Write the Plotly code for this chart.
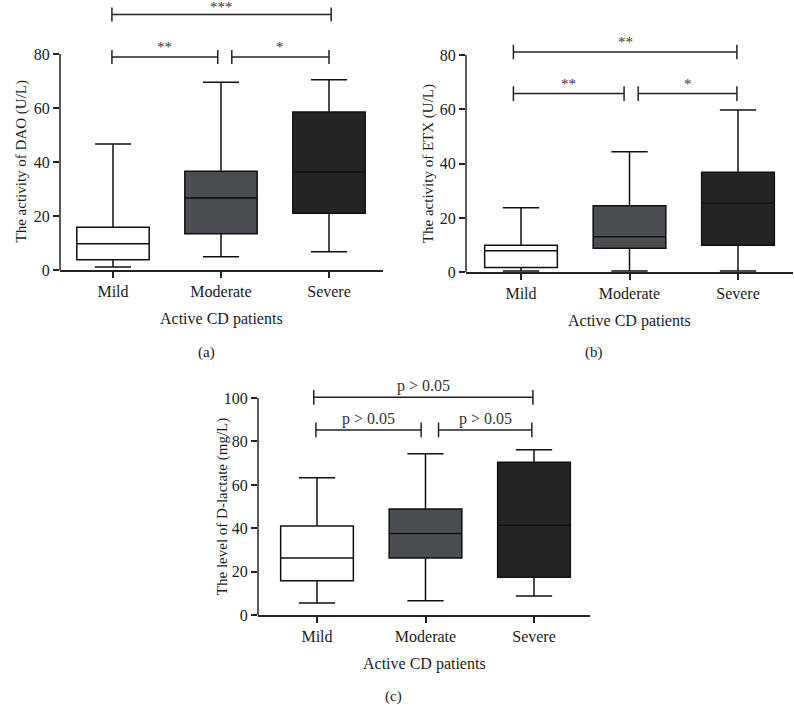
import plotly.graph_objects as go

W, H = 794, 705
FONT = "Liberation Serif"
INK = "#101010"

categories = ["Mild", "Moderate", "Severe"]
box_colors = ["#ffffff", "#4a4d51", "#252527"]

# (a) DAO activity (U/L)
dao_low = [1.1, 4.9, 6.8]
dao_q1 = [3.8, 13.4, 21.0]
dao_med = [9.7, 26.7, 36.3]
dao_q3 = [15.8, 36.6, 58.5]
dao_high = [46.7, 69.5, 70.5]
dao_sig_x0 = [-0.01, 1.10, -0.01]
dao_sig_x1 = [0.97, 2.00, 2.02]
dao_sig_y = [78.9, 78.9, 94.6]
dao_sig_lbl = ["**", "*", "***"]

# (b) ETX activity (U/L)
etx_low = [0.5, 0.5, 0.5]
etx_q1 = [1.8, 8.9, 10.0]
etx_med = [7.9, 13.1, 25.4]
etx_q3 = [10.0, 24.5, 36.8]
etx_high = [23.8, 44.4, 59.8]
etx_sig_x0 = [-0.07, 1.08, -0.07]
etx_sig_x1 = [0.95, 1.99, 1.99]
etx_sig_y = [65.8, 65.8, 81.1]
etx_sig_lbl = ["**", "*", "**"]

# (c) D-lactate level (mg/L)
dl_low = [5.7, 6.7, 8.9]
dl_q1 = [15.9, 26.4, 17.5]
dl_med = [26.4, 37.7, 41.4]
dl_q3 = [41.1, 48.9, 70.4]
dl_high = [63.3, 74.4, 76.2]
dl_sig_x0 = [-0.01, 1.12, -0.03]
dl_sig_x1 = [0.96, 1.98, 1.99]
dl_sig_y = [85.3, 85.3, 100.3]
dl_sig_lbl = ["p > 0.05", "p > 0.05", "p > 0.05"]

y_ticks_ab = [0, 20, 40, 60, 80]
y_ticks_c = [0, 20, 40, 60, 80, 100]

panels = [
    dict(key="", low=dao_low, q1=dao_q1, med=dao_med, q3=dao_q3, high=dao_high,
         sx0=dao_sig_x0, sx1=dao_sig_x1, sy=dao_sig_y, slbl=dao_sig_lbl,
         ytitle="The activity of DAO (U/L)", ticks=y_ticks_ab, caption="(a)",
         left=60, right=383, cat0=113, step=108, y0px=270, ppu=2.70, ymax=100,
         tick_h=2.6, ytitle_shift=-50, sigfont=15, cap=(196, 352)),
    dict(key="2", low=etx_low, q1=etx_q1, med=etx_med, q3=etx_q3, high=etx_high,
         sx0=etx_sig_x0, sx1=etx_sig_x1, sy=etx_sig_y, slbl=etx_sig_lbl,
         ytitle="The activity of ETX (U/L)", ticks=y_ticks_ab, caption="(b)",
         left=466, right=793, cat0=521, step=108.5, y0px=272.3, ppu=2.716, ymax=95,
         tick_h=2.7, ytitle_shift=-48, sigfont=15, cap=(605, 352)),
    dict(key="3", low=dl_low, q1=dl_q1, med=dl_med, q3=dl_q3, high=dl_high,
         sx0=dl_sig_x0, sx1=dl_sig_x1, sy=dl_sig_y, slbl=dl_sig_lbl,
         ytitle="The level of D-lactate (mg/L)", ticks=y_ticks_c, caption="(c)",
         left=258, right=590, cat0=317, step=108.5, y0px=615.3, ppu=2.173, ymax=116,
         tick_h=3.4, ytitle_shift=-46, sigfont=16, cap=(393, 696)),
]

fig = go.Figure()
shapes = []
annotations = []
layout = {}

for p in panels:
    k = p["key"]
    xa, ya = "x" + k, "y" + k
    for i, cat in enumerate(categories):
        fig.add_trace(go.Box(
            x=[cat], q1=[p["q1"][i]], median=[p["med"][i]], q3=[p["q3"][i]],
            lowerfence=[p["low"][i]], upperfence=[p["high"][i]],
            fillcolor=box_colors[i], line=dict(color=INK, width=1.5),
            width=0.67, whiskerwidth=0.5, boxpoints=False, showlegend=False,
            xaxis=xa, yaxis=ya, hoverinfo="skip"))
    xr = [(p["left"] - p["cat0"]) / p["step"], (p["right"] - p["cat0"]) / p["step"]]
    top_px = p["y0px"] - p["ymax"] * p["ppu"]
    layout["xaxis" + k] = dict(
        domain=[p["left"] / W, p["right"] / W], range=xr, type="category",
        categoryorder="array", categoryarray=categories, anchor=ya, automargin=False,
        showline=True, linecolor="#222", linewidth=1.5, showgrid=False, zeroline=False,
        ticks="outside", ticklen=6, tickwidth=1.5, tickcolor="#222",
        tickfont=dict(family=FONT, size=16, color="#1a1a1a"))
    layout["yaxis" + k] = dict(
        domain=[1 - p["y0px"] / H, 1 - top_px / H], range=[0, p["ymax"]], anchor=xa,
        automargin=False,
        showline=False, showgrid=False, zeroline=False, tickvals=p["ticks"],
        ticks="outside", ticklen=6, tickwidth=1.5, tickcolor="#222",
        tickfont=dict(family=FONT, size=16, color="#1a1a1a"))
    # y axis line up to the last tick
    shapes.append(dict(type="line", xref=xa + " domain", yref=ya, x0=0, x1=0,
                       y0=0, y1=p["ticks"][-1], line=dict(color="#222", width=1.5)))
    # significance brackets
    for x0, x1, y, lbl in zip(p["sx0"], p["sx1"], p["sy"], p["slbl"]):
        ln = dict(color="#222", width=1.5)
        shapes.append(dict(type="line", xref=xa, yref=ya, x0=x0, x1=x1, y0=y, y1=y, line=ln))
        for xx in (x0, x1):
            shapes.append(dict(type="line", xref=xa, yref=ya, x0=xx, x1=xx,
                               y0=y - p["tick_h"], y1=y + p["tick_h"], line=ln))
        shift = -2 if lbl == "***" else 0
        annotations.append(dict(text=lbl, xref=xa, yref=ya, x=(x0 + x1) / 2, y=y,
                                yanchor="bottom", showarrow=False, yshift=shift,
                                font=dict(family=FONT, size=p["sigfont"], color="#333")))
    # axis titles
    annotations.append(dict(text=p["ytitle"], textangle=-90, xref=xa + " domain", yref=ya,
                            x=0, y=p["ticks"][-1] / 2, xshift=p["ytitle_shift"],
                            showarrow=False, font=dict(family=FONT, size=15, color="#1a1a1a")))
    annotations.append(dict(text="Active CD patients", xref=xa + " domain", yref=ya + " domain",
                            x=0.5, y=0, yshift=-49, yanchor="middle", showarrow=False,
                            font=dict(family=FONT, size=16, color="#1a1a1a")))
    annotations.append(dict(text=p["caption"], xref="paper", yref="paper",
                            x=p["cap"][0] / W, y=1 - p["cap"][1] / H, yanchor="middle",
                            showarrow=False, font=dict(family=FONT, size=15, color="#1a1a1a")))

fig.update_layout(
    width=W, height=H, margin=dict(l=0, r=0, t=0, b=0, autoexpand=False),
    paper_bgcolor="white", plot_bgcolor="white",
    shapes=shapes, annotations=annotations, **layout)

fig.write_html("out.html", config={"displayModeBar": False},
               post_script="document.body.style.margin='0';document.body.style.overflow='hidden';")
